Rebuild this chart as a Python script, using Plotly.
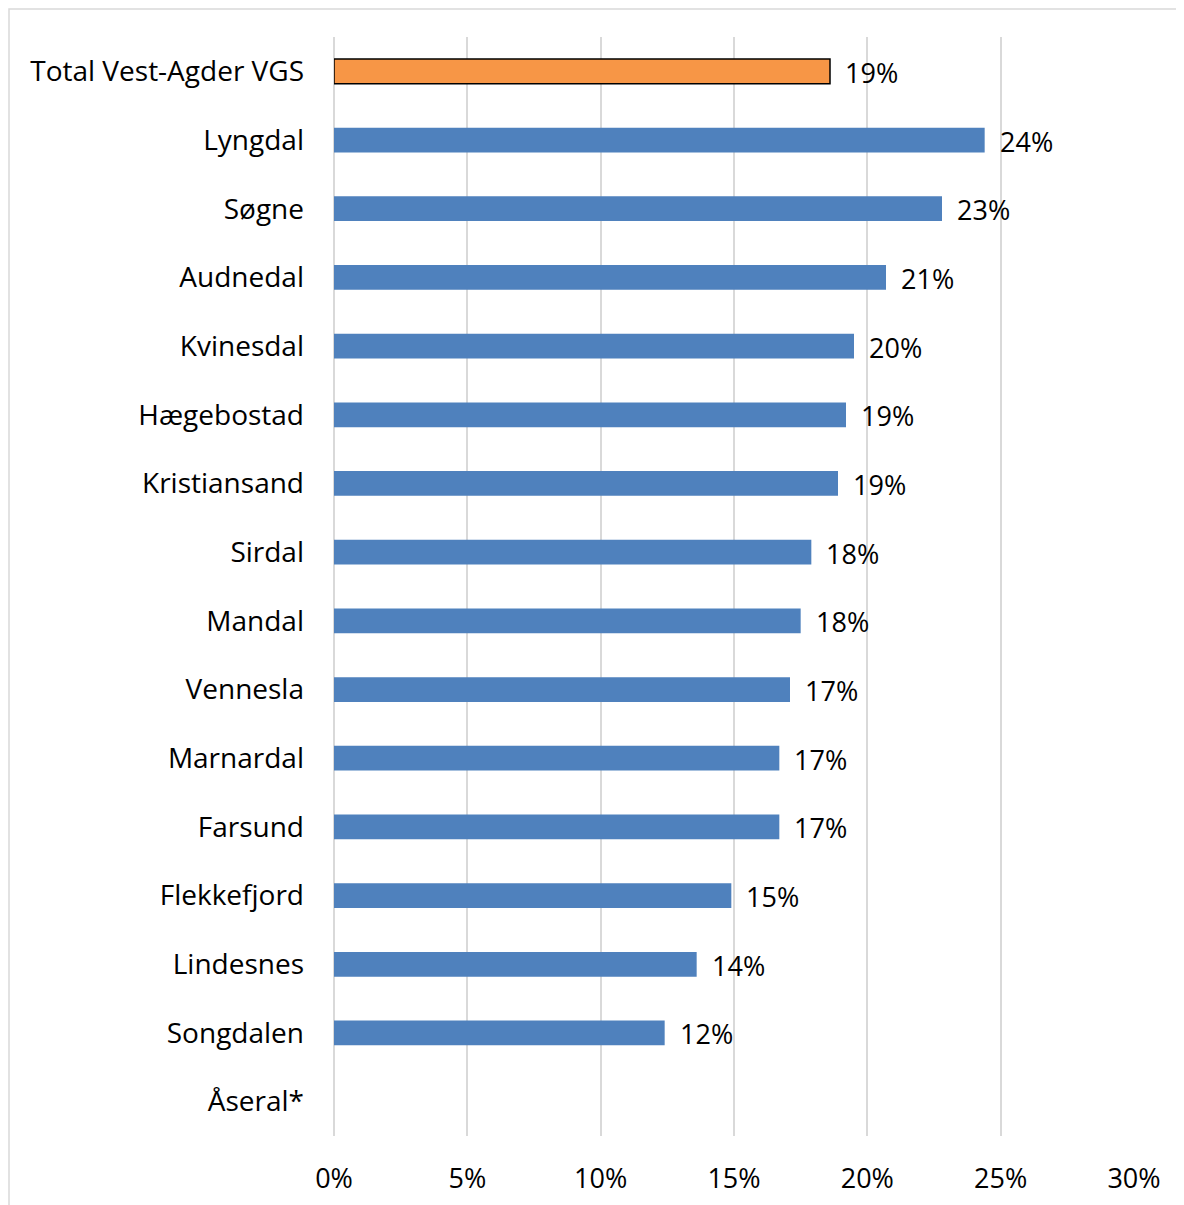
import plotly.graph_objects as go

categories = [
    "Total Vest-Agder VGS", "Lyngdal", "Søgne", "Audnedal", "Kvinesdal",
    "Hægebostad", "Kristiansand", "Sirdal", "Mandal", "Vennesla", "Marnardal",
    "Farsund", "Flekkefjord", "Lindesnes", "Songdalen", "Åseral*",
]
values = [
    0.186, 0.244, 0.228, 0.207, 0.195, 0.192, 0.189, 0.179, 0.175, 0.171,
    0.167, 0.167, 0.149, 0.136, 0.124, None,
]
x_ticks = [0, 0.05, 0.10, 0.15, 0.20, 0.25, 0.30]

FONT = "'Open Sans', 'Noto Sans', sans-serif"
BLUE = "#4f81bd"
ORANGE = "#f79646"

colors = [ORANGE if i == 0 else BLUE for i in range(len(categories))]
line_w = [1.5 if i == 0 else 0 for i in range(len(categories))]

fig = go.Figure(go.Bar(
    y=categories, x=values, orientation="h",
    marker=dict(color=colors, line=dict(color="black", width=line_w)),
    width=0.36,
    hoverinfo="skip",
))

for cat, v in zip(categories, values):
    if v is None:
        continue
    fig.add_annotation(
        x=v, y=cat, text=f"{round(v * 100):.0f}%", showarrow=False,
        xanchor="left", yanchor="middle", xshift=13, yshift=-1,
        font=dict(size=27, color="black", family=FONT),
    )

# chart-area border (only top and left edges are visible in the crop)
fig.add_shape(
    type="rect", xref="paper", yref="paper",
    x0=(9 - 334) / 800, x1=1.2, y0=-0.2, y1=(1136 - 9) / 1099,
    line=dict(color="#d9d9d9", width=1.5), fillcolor="rgba(0,0,0,0)",
    layer="below",
)

# page body adds an 8px offset, so margins are shifted to compensate
fig.update_layout(
    width=1184, height=1205,
    paper_bgcolor="white", plot_bgcolor="white",
    margin=dict(l=326, r=58, t=29, b=77),
    font=dict(family=FONT, size=27, color="black"),
    showlegend=False,
    xaxis=dict(
        range=[0, 0.30], tickvals=x_ticks, tickformat=".0%",
        showgrid=True, gridcolor="#d9d9d9", gridwidth=1.5,
        zeroline=True, zerolinecolor="#d9d9d9", zerolinewidth=1.5,
        showline=False, ticks="", ticklabelstandoff=24,
        fixedrange=True,
    ),
    yaxis=dict(
        categoryorder="array", categoryarray=categories[::-1],
        showgrid=False, showline=False, ticks="", ticklabelstandoff=29,
        tickfont=dict(size=28),
        fixedrange=True,
    ),
)

fig.write_html("out.html")
